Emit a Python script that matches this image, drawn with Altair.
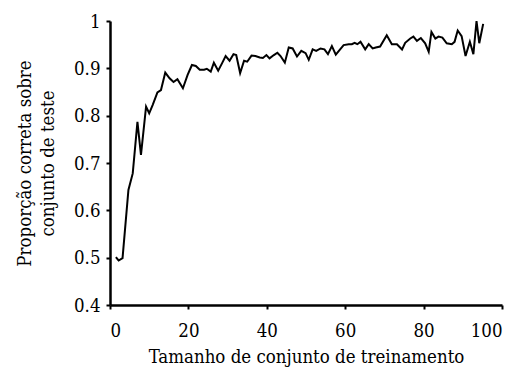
import altair as alt
import pandas as pd

training_size = [
    1.5, 2.2, 3.2, 4.7, 5.8, 7.0, 7.9, 9.2, 10.0, 10.9,
    12.1, 13.0, 14.1, 15.2, 16.2, 17.2, 18.6, 19.8, 20.9, 21.9,
    22.9, 24.0, 24.7, 25.7, 26.5, 27.6, 28.6, 29.5, 30.5, 31.5,
    32.2, 33.2, 34.2, 35.0, 36.1, 37.1, 38.2, 39.0, 39.9, 40.7,
    41.8, 42.7, 43.5, 44.6, 45.6, 46.6, 47.7, 48.8, 49.9, 50.7,
    51.7, 52.6, 53.7, 54.7, 55.6, 56.6, 57.6, 58.6, 59.6, 60.9,
    61.7, 62.4, 63.1, 63.9, 65.1, 66.0, 67.0, 67.8, 68.9, 70.6,
    71.9, 73.2, 74.5, 75.3, 76.6, 77.4, 78.3, 79.3, 80.4, 81.3,
    82.0, 83.0, 83.8, 84.8, 85.9, 87.2, 87.9, 88.7, 89.7, 90.7,
    91.8, 92.7, 93.5, 94.2, 95.2,
]

proportion_correct = [
    0.501, 0.494, 0.499, 0.643, 0.678, 0.787, 0.717, 0.819, 0.805, 0.823,
    0.849, 0.854, 0.891, 0.879, 0.871, 0.877, 0.858, 0.886, 0.907, 0.905,
    0.897, 0.897, 0.899, 0.893, 0.912, 0.895, 0.911, 0.926, 0.916, 0.930,
    0.928, 0.890, 0.916, 0.914, 0.927, 0.926, 0.923, 0.922, 0.928, 0.921,
    0.928, 0.933, 0.926, 0.912, 0.944, 0.942, 0.925, 0.937, 0.932, 0.918,
    0.940, 0.937, 0.942, 0.940, 0.930, 0.947, 0.929, 0.939, 0.949, 0.951,
    0.951, 0.954, 0.951, 0.956, 0.940, 0.951, 0.942, 0.944, 0.946, 0.970,
    0.951, 0.951, 0.940, 0.954, 0.963, 0.967, 0.958, 0.964, 0.953, 0.935,
    0.977, 0.963, 0.967, 0.965, 0.953, 0.951, 0.956, 0.980, 0.968, 0.926,
    0.956, 0.930, 1.000, 0.953, 0.994,
]

x_ticks = [0, 20, 40, 60, 80, 100]
y_ticks = [0.4, 0.5, 0.6, 0.7, 0.8, 0.9, 1.0]

x_title = "Tamanho de conjunto de treinamento"
y_title = ["Proporção correta sobre", "conjunto de teste"]

df = pd.DataFrame({"x": training_size, "y": proportion_correct})

FONT = "DejaVu Serif Condensed"

chart = (
    alt.Chart(df)
    .mark_line(color="black", strokeWidth=2)
    .encode(
        x=alt.X(
            "x:Q",
            scale=alt.Scale(domain=[0, 100], nice=False, zero=False),
            axis=alt.Axis(
                values=x_ticks,
                title=x_title,
                format="d",
                grid=False,
                domainColor="black",
                domainWidth=2.5,
                tickColor="black",
                tickWidth=2,
                tickSize=4,
                labelPadding=12,
                labelFont=FONT,
                labelFontSize=18.5,
                labelColor="black",
                titleFont=FONT,
                titleFontSize=18.5,
                titleFontWeight="normal",
                titleColor="black",
                titlePadding=8,
            ),
        ),
        y=alt.Y(
            "y:Q",
            scale=alt.Scale(domain=[0.4, 1.0], nice=False, zero=False),
            axis=alt.Axis(
                values=y_ticks,
                title=y_title,
                labelExpr="datum.value == 1 ? '1' : format(datum.value, '.1f')",
                grid=False,
                domainColor="black",
                domainWidth=2.5,
                tickColor="black",
                tickWidth=2,
                tickSize=4,
                labelPadding=6,
                labelFont=FONT,
                labelFontSize=18.5,
                labelColor="black",
                titleFont=FONT,
                titleFontSize=18.5,
                titleFontWeight="normal",
                titleColor="black",
                titlePadding=16,
                titleLineHeight=23,
            ),
        ),
    )
    .properties(
        width=392,
        height=284,
        autosize=alt.AutoSizeParams(type="none"),
        padding={"left": 110, "top": 21, "right": 18, "bottom": 67},
        background="white",
    )
    .configure_view(stroke=None)
)

chart.save("out.html", embed_options={"renderer": "svg", "actions": False})
